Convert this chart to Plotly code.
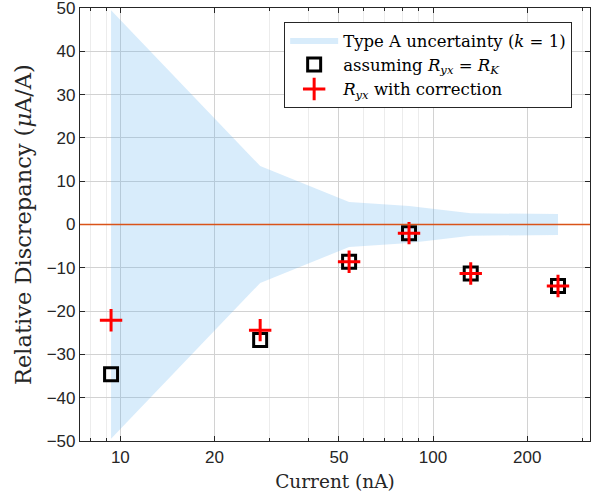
import plotly.graph_objects as go

# Data
current_nA = [9.34, 28.0, 53.9, 83.8, 132.0, 251.0]
disc_assumed = [-34.6, -26.7, -8.6, -2.0, -11.3, -14.2]
disc_corrected = [-22.1, -24.4, -8.6, -2.0, -11.3, -14.2]
type_a_unc = [49.5, 13.5, 5.2, 4.3, 2.6, 2.4]

x_tickvals = [10, 20, 50, 100, 200]
x_ticktext = ["10", "20", "50", "100", "200"]
x_minorvals = [8, 9, 30, 40, 60, 70, 80, 90, 300]
y_tickvals = list(range(-50, 51, 10))

serif = "DejaVu Serif, Liberation Serif, serif"
sans = "Liberation Sans, Arial, sans-serif"
axis_col = "#262626"

upper = type_a_unc
lower = [-u for u in type_a_unc]
band_x = current_nA + current_nA[::-1]
band_y = upper + lower[::-1]

fig = go.Figure()
fig.add_trace(go.Scatter(
    x=band_x, y=band_y, fill="toself", mode="lines",
    line=dict(width=0, color="rgba(0,0,0,0)"),
    fillcolor="rgba(100,180,240,0.25)",
    name="Type A uncertainty (<i>k</i> = 1)", hoverinfo="skip",
))
fig.add_trace(go.Scatter(
    x=current_nA, y=disc_assumed, mode="markers",
    marker=dict(symbol="square-open", size=13, color="black",
                line=dict(width=3, color="black")),
    name="assuming <i>R</i><sub><i>yx</i></sub> = <i>R</i><sub><i>K</i></sub>",
))
fig.add_trace(go.Scatter(
    x=current_nA, y=disc_corrected, mode="markers",
    marker=dict(symbol="cross-thin", size=16, color="red",
                line=dict(width=3, color="red")),
    name="<i>R</i><sub><i>yx</i></sub> with correction",
))

fig.add_shape(type="line", xref="paper", x0=0, x1=1, yref="y", y0=0, y1=0,
              line=dict(color="#D95319", width=1.5), layer="above")

fig.update_layout(
    width=596, height=497,
    margin=dict(l=80, r=6, t=8, b=56, autoexpand=False),
    paper_bgcolor="white", plot_bgcolor="white",
    showlegend=True,
    legend=dict(
        x=0.965, y=0.968, xanchor="right", yanchor="top",
        bgcolor="white", bordercolor=axis_col, borderwidth=1,
        font=dict(family=serif, size=16.5, color="black"),
        itemwidth=48, tracegroupgap=0,
    ),
    xaxis=dict(
        type="log", range=[0.871, 2.502], automargin=False,
        tickmode="array", tickvals=x_tickvals, ticktext=x_ticktext,
        ticks="inside", ticklen=5, tickcolor=axis_col, tickwidth=1,
        showline=True, linecolor=axis_col, linewidth=1.2, mirror="allticks",
        showgrid=True, gridcolor="#d2d2d2", gridwidth=1,
        minor=dict(tickmode="array", tickvals=x_minorvals, ticks="inside",
                   ticklen=3, tickcolor=axis_col, showgrid=True,
                   gridcolor="#ececec", gridwidth=1),
        tickfont=dict(family=sans, size=17, color=axis_col),
        ticklabeloverflow="allow",
        title=dict(text="Current (nA)", font=dict(family=serif, size=18.5, color=axis_col),
                   standoff=9),
        zeroline=False,
    ),
    yaxis=dict(
        range=[-50.001, 50.001], tickmode="array", tickvals=y_tickvals, automargin=False,
        ticks="inside", ticklen=5, tickcolor=axis_col, tickwidth=1,
        showline=True, linecolor=axis_col, linewidth=1.2, mirror="allticks",
        showgrid=True, gridcolor="#d2d2d2", gridwidth=1,
        tickfont=dict(family=sans, size=17, color=axis_col),
        ticklabeloverflow="allow",
        title=dict(text="Relative Discrepancy (<i>μ</i>A/A)",
                   font=dict(family=serif, size=22.5, color=axis_col), standoff=8),
        zeroline=False,
    ),
)

fig.write_html("out.html", config={"displayModeBar": False},
               post_script="document.body.style.margin='0';document.body.style.overflow='hidden';")
